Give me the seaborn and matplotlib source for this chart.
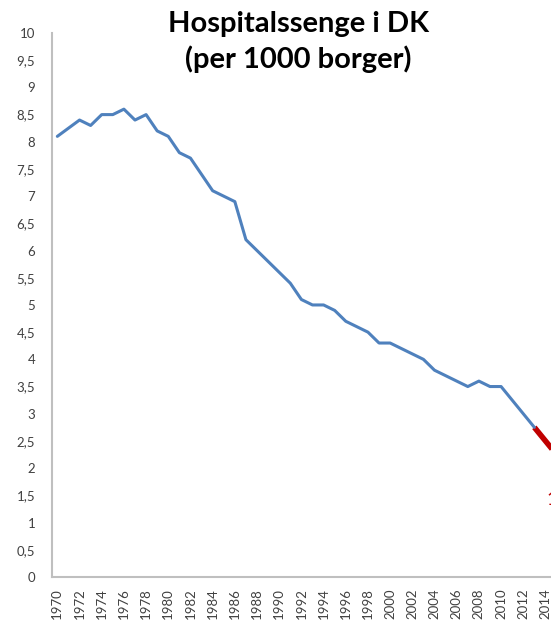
import pandas as pd
import matplotlib.pyplot as plt
import seaborn as sns

# Hospitalssenge per 1000 borger
years = list(range(1970, 2014))
beds = [8.1, 8.25, 8.4, 8.3, 8.5, 8.5, 8.6, 8.4, 8.5, 8.2,
        8.1, 7.8, 7.7, 7.4, 7.1, 7.0, 6.9, 6.2, 6.0, 5.8,
        5.6, 5.4, 5.1, 5.0, 5.0, 4.9, 4.7, 4.6, 4.5, 4.3,
        4.3, 4.2, 4.1, 4.0, 3.8, 3.7, 3.6, 3.5, 3.6, 3.5,
        3.5, 3.25, 3.0, 2.75]

# fremskrivning (rød)
proj_years = [2013, 2014, 2015]
proj_beds = [2.75, 2.5, 2.25]

ytick_vals = [i * 0.5 for i in range(21)]
ytick_labels = [f"{v:g}".replace(".", ",") for v in ytick_vals]
xtick_vals = list(range(1970, 2016, 2))

sns.set_theme(style="white")
plt.rcParams["font.family"] = ["Lato", "DejaVu Sans"]

df = pd.DataFrame({"aar": years, "senge": beds})
df_proj = pd.DataFrame({"aar": proj_years, "senge": proj_beds})

fig = plt.figure(figsize=(5.51, 6.23), dpi=100)
ax = fig.add_axes([0.094, 0.074, 0.906, 0.873])

sns.lineplot(data=df_proj, x="aar", y="senge", color="#C00000", linewidth=4,
             solid_capstyle="butt", ax=ax)
sns.lineplot(data=df, x="aar", y="senge", color="#4F81BD", linewidth=2.2, ax=ax)

ax.set_xlim(1969.5, 2014.5)
ax.set_ylim(0, 10)
ax.set_yticks(ytick_vals)
ax.set_yticklabels(ytick_labels)
ax.set_xticks(xtick_vals)
ax.set_xticklabels([str(y) for y in xtick_vals], rotation=90)
ax.tick_params(axis="y", length=0, pad=12, labelsize=9.5, labelcolor="#404040")
ax.tick_params(axis="x", length=0, pad=8, labelsize=9.5, labelcolor="#404040")
ax.set_xlabel("")
ax.set_ylabel("")

for side in ["top", "right"]:
    ax.spines[side].set_visible(False)
for side in ["left", "bottom"]:
    ax.spines[side].set_color("#BFBFBF")
    ax.spines[side].set_linewidth(1.5)

fig.text(0.541, 0.982, "Hospitalssenge i DK\n(per 1000 borger)", ha="center", va="top",
         fontsize=21, fontweight="bold", color="black", linespacing=1.35)

# afskåret rød etiket i højre kant
fig.text(0.9925, 0.2, "1,5", color="#C00000", fontsize=14, ha="left", va="center")

fig.savefig("out.png", dpi=100)
